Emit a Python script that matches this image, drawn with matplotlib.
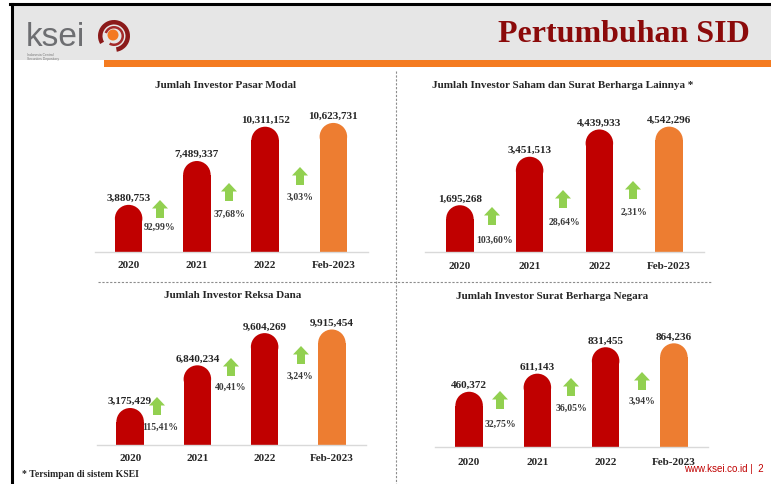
import matplotlib
matplotlib.use("Agg")
import matplotlib.pyplot as plt
from matplotlib.patches import Rectangle, Ellipse, Polygon, Circle, Wedge

# ---------------- data ----------------
categories = ["2020", "2021", "2022", "Feb-2023"]

titles = [
    "Jumlah Investor Pasar Modal",
    "Jumlah Investor Saham dan Surat Berharga Lainnya *",
    "Jumlah Investor Reksa Dana",
    "Jumlah Investor Surat Berharga Negara",
]

pasar_modal = [3880753, 7489337, 10311152, 10623731]
saham = [1695268, 3451513, 4439933, 4542296]
reksa_dana = [3175429, 6840234, 9604269, 9915454]
sbn = [460372, 611143, 831455, 864236]

growth_pasar_modal = ["92,99%", "37,68%", "3,03%"]
growth_saham = ["103,60%", "28,64%", "2,31%"]
growth_reksa_dana = ["115,41%", "40,41%", "3,24%"]
growth_sbn = ["32,75%", "36,05%", "3,94%"]

series = [pasar_modal, saham, reksa_dana, sbn]
growths = [growth_pasar_modal, growth_saham, growth_reksa_dana, growth_sbn]

# ---------------- layout (pixels, top-down) ----------------
W, H = 771, 485
panels = [
    dict(x0=94.5, x1=367.5, base=253, ppu=12.15, tx=226, ty=86, tick_y=267,
         arrows=[(160, 201, 160, 227), (229, 184, 229, 214), (300, 168, 300, 197)]),
    dict(x0=425.0, x1=704.0, base=253, ppu=27.6, tx=563, ty=86, tick_y=268,
         arrows=[(492, 208, 495, 240), (563, 191, 564, 222), (633, 182, 634, 212)]),
    dict(x0=96.5, x1=365.5, base=446, ppu=11.65, tx=233, ty=296, tick_y=460,
         arrows=[(157, 398, 160, 427), (231, 359, 231, 387), (301, 347, 300, 376)]),
    dict(x0=435.0, x1=708.0, base=448, ppu=120.0, tx=552, ty=297, tick_y=464,
         arrows=[(500, 392, 500, 424), (571, 379, 571, 408), (642, 373, 642, 401)]),
]

RED = "#C00000"
ORANGE = "#ED7D31"
GREEN = "#92D050"
TXT = "#262626"
SERIF = "Liberation Serif"

fig = plt.figure(figsize=(W / 100, H / 100), dpi=100)
fig.patch.set_facecolor("white")

bg = fig.add_axes([0, 0, 1, 1])
bg.set_xlim(0, W)
bg.set_ylim(H, 0)
bg.axis("off")

# header
bg.add_patch(Rectangle((12, 6), W - 12, 55, facecolor="#E6E6E6", edgecolor="none"))
bg.add_patch(Rectangle((104, 61), W - 104, 7, facecolor="#F47B20", edgecolor="none"))
bg.plot([10, W], [5, 5], color="black", lw=2.2)
bg.plot([12, 12], [5, H], color="black", lw=2.2)

bg.text(750, 35, "Pertumbuhan SID", ha="right", va="center", fontsize=23,
        fontweight="bold", family=SERIF, color="#8B0A0A")

# logo
bg.text(26, 46, "ksei", ha="left", va="baseline", fontsize=24,
        family="Liberation Sans", color="#6D6E71")
bg.add_patch(Wedge((114, 37), 16, 150, 80, width=4.5, facecolor="#8B1A1A", edgecolor="none"))
bg.add_patch(Wedge((114, 37), 10, 200, 120, width=2.5, facecolor="#A52A2A", edgecolor="none"))
bg.add_patch(Circle((113, 36), 5.5, facecolor="#F47920", edgecolor="none"))
bg.text(27, 55, "Indonesia Central", fontsize=2.4, color="#777777",
        family="Liberation Sans", va="center")
bg.text(27, 59, "Securities Depository", fontsize=2.4, color="#777777",
        family="Liberation Sans", va="center")

# dividers
bg.plot([396, 396], [72, H], color="#8C8C8C", lw=0.8, ls=(0, (2, 1.5)))
bg.plot([98, 712], [283, 283], color="#8C8C8C", lw=0.8, ls=(0, (2, 1.5)))

bar_w_px = 27.5

for p, vals, gr, title in zip(panels, series, growths, titles):
    top_px = p["base"] - 160
    ax = fig.add_axes([p["x0"] / W, (H - p["base"]) / H,
                       (p["x1"] - p["x0"]) / W, (p["base"] - top_px) / H])
    ax.set_xlim(-0.5, 3.5)
    ymax = (p["base"] - top_px) / p["ppu"] * 1e6
    ax.set_ylim(0, ymax)
    ax.patch.set_alpha(0)
    for s in ax.spines.values():
        s.set_visible(False)
    ax.set_yticks([])
    ax.set_xticks(range(len(categories)))
    ax.set_xticklabels(categories, family=SERIF, fontweight="bold", fontsize=8, color=TXT)
    pad_px = p["tick_y"] - p["base"] - 6
    ax.tick_params(axis="x", length=0, pad=pad_px * 0.72)
    ax.axhline(0, color="#D9D9D9", lw=1.0, clip_on=False)

    spacing = (p["x1"] - p["x0"]) / 4
    bw = bar_w_px / spacing
    cap_ry = (bar_w_px / 2) / p["ppu"] * 1e6
    colors = [RED, RED, RED, ORANGE]
    rect_h = [v - cap_ry for v in vals]
    ax.bar(range(len(vals)), rect_h, width=bw, color=colors, edgecolor="none")
    for i, (v, c) in enumerate(zip(vals, colors)):
        ax.add_patch(Ellipse((i, v - cap_ry), bw, 2 * cap_ry, facecolor=c,
                             edgecolor="none"))
        ax.annotate(f"{v:,}", (i, v), xytext=(0, 2), textcoords="offset points",
                    ha="center", va="bottom", family=SERIF, fontweight="bold",
                    fontsize=8, color=TXT)

    bg.text(p["tx"], p["ty"], title, ha="center", va="center", family=SERIF,
            fontweight="bold", fontsize=8, color=TXT)

    for (ax_x, ax_y, lx, ly), g in zip(p["arrows"], gr):
        pts = [(ax_x, ax_y), (ax_x + 8, ax_y + 8.5), (ax_x + 4, ax_y + 8.5),
               (ax_x + 4, ax_y + 18), (ax_x - 4, ax_y + 18), (ax_x - 4, ax_y + 8.5),
               (ax_x - 8, ax_y + 8.5)]
        bg.add_patch(Polygon(pts, closed=True, facecolor=GREEN, edgecolor="none"))
        bg.text(lx, ly, g, ha="center", va="center", family=SERIF,
                fontweight="bold", fontsize=7, color="#3A3A3A")

bg.text(22, 475, "* Tersimpan di sistem KSEI", ha="left", va="center", family=SERIF,
        fontweight="bold", fontsize=7, color=TXT)
bg.text(764, 469, "www.ksei.co.id |  2", ha="right", va="center",
        family="Liberation Sans", fontsize=7, color=RED)

fig.savefig("out.png", dpi=100)
